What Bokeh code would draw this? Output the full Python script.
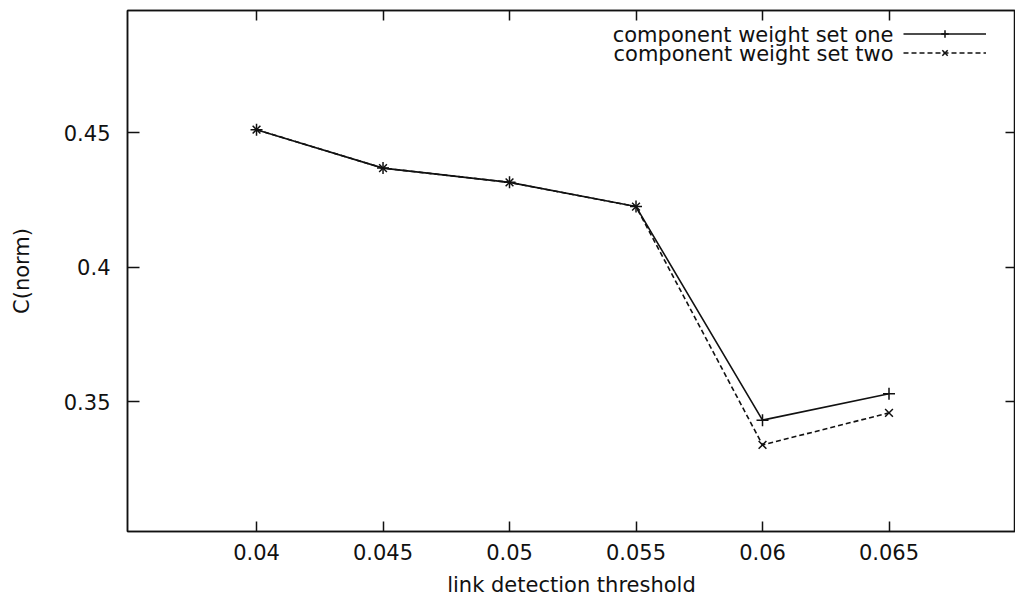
from bokeh.plotting import figure
from bokeh.models import (Range1d, FixedTicker, LinearAxis, Legend, LegendItem,
                          Label, CustomJSTickFormatter)
from bokeh.core.properties import value
from bokeh.embed import file_html
from bokeh.resources import INLINE

# ---- data ----
thresholds = [0.04, 0.045, 0.05, 0.055, 0.06, 0.065]
set_one = [0.4511, 0.4368, 0.4315, 0.4225, 0.3431, 0.3529]
set_two = [0.4511, 0.4368, 0.4315, 0.4225, 0.3339, 0.3458]
x_tick_labels = ["0.04", "0.045", "0.05", "0.055", "0.06", "0.065"]
y_ticks = [0.35, 0.4, 0.45]
y_tick_labels = ["0.35", "0.4", "0.45"]
series_names = ["component weight set one", "component weight set two"]
x_title = "link detection threshold"
y_title = "C(norm)"

FONT = "DejaVu Sans"
FS = "21px"
INK = "#111111"

p = figure(width=1015, height=602, output_backend="svg", toolbar_location=None,
           x_range=Range1d(0.0349, 0.0700), y_range=Range1d(0.3017, 0.4954),
           min_border_left=127, min_border_right=0, min_border_top=10,
           min_border_bottom=71)
p.background_fill_color = "white"
p.border_fill_color = "white"
p.outline_line_color = INK
p.outline_line_width = 1.5
p.xgrid.visible = False
p.ygrid.visible = False

# bottom axis
xa = p.xaxis[0]
xa.ticker = FixedTicker(ticks=thresholds)
xa.major_label_overrides = {t: s for t, s in zip(thresholds, x_tick_labels)}
xa.axis_label = x_title
# left axis
ya = p.yaxis[0]
ya.ticker = FixedTicker(ticks=y_ticks)
ya.major_label_overrides = {t: s for t, s in zip(y_ticks, y_tick_labels)}
ya.axis_label = y_title

for ax, tick_len in ((xa, 10), (ya, 12)):
    ax.major_tick_in = tick_len
    ax.major_tick_out = 0
    ax.minor_tick_in = 0
    ax.minor_tick_out = 0
    ax.axis_line_color = INK
    ax.axis_line_width = 1.5
    ax.major_tick_line_color = INK
    ax.major_tick_line_width = 1.5
    ax.major_label_text_font = FONT
    ax.major_label_text_font_size = FS
    ax.major_label_text_color = INK
    ax.axis_label_text_font = FONT
    ax.axis_label_text_font_size = FS
    ax.axis_label_text_font_style = "normal"
    ax.axis_label_text_color = INK

xa.major_label_standoff = 12
xa.axis_label_standoff = 10
ya.major_label_standoff = 17
ya.axis_label_standoff = 27

# mirrored ticks on top and right (no labels)
top = LinearAxis(ticker=FixedTicker(ticks=thresholds),
                 formatter=CustomJSTickFormatter(code="return ''"))
right = LinearAxis(ticker=FixedTicker(ticks=y_ticks),
                   formatter=CustomJSTickFormatter(code="return ''"))
for ax, tick_len in ((top, 10), (right, 10)):
    ax.major_tick_in = tick_len
    ax.major_tick_out = 0
    ax.minor_tick_in = 0
    ax.minor_tick_out = 0
    ax.major_label_standoff = 0
    ax.major_label_text_font_size = "1px"
    ax.major_label_text_alpha = 0
    ax.axis_line_color = INK
    ax.axis_line_width = 1.5
    ax.major_tick_line_color = INK
    ax.major_tick_line_width = 1.5
p.add_layout(top, "above")
p.add_layout(right, "right")

# series
l1 = p.line(thresholds, set_one, line_color=INK, line_width=1.6)
s1 = p.scatter(thresholds, set_one, marker="cross", size=12, line_color=INK, line_width=1.5)
l2 = p.line(thresholds, set_two, line_color=INK, line_width=1.6, line_dash="5 3")
s2 = p.scatter(thresholds, set_two, marker="x", size=11, line_color=INK, line_width=1.5)

# legend: samples via Legend, texts via right-aligned labels (gnuplot style)
legend = Legend(items=[LegendItem(label=value(" "), renderers=[l1, s1]),
                       LegendItem(label=value(" "), renderers=[l2, s2])],
                location=(776, 469), glyph_width=83, glyph_height=19,
                label_width=0, label_standoff=0, label_text_font_size="8px",
                spacing=0, padding=0, margin=0, border_line_color=None,
                background_fill_alpha=0)
p.add_layout(legend)
for i, name in enumerate(series_names):
    p.add_layout(Label(x=766, y=497 - 19 * i, x_units="screen", y_units="screen",
                       text=name, text_align="right", text_baseline="middle",
                       text_font=FONT, text_font_size=FS, text_color=INK))

open("out.html", "w").write(file_html(p, INLINE))
